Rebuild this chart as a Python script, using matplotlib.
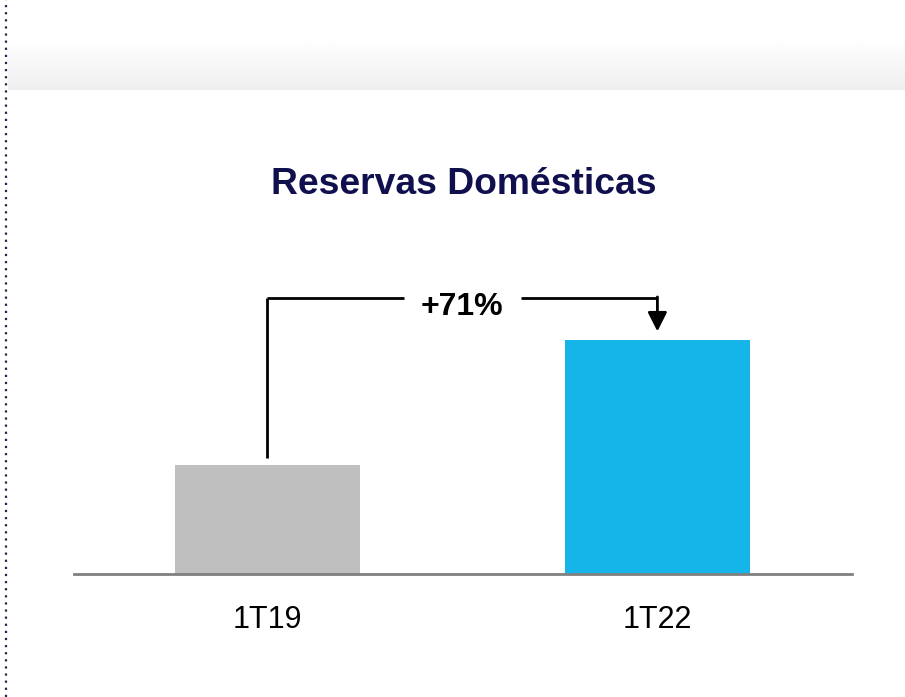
import numpy as np
import matplotlib
matplotlib.use("Agg")
from matplotlib import pyplot as plt
from matplotlib.lines import Line2D

plt.rcParams['font.family'] = ['Liberation Sans', 'DejaVu Sans']

# Data
categories = ['1T19', '1T22']
values = [100, 171]
bar_colors = ['#bfbfbf', '#15b4e9']
change_label = '+71%'
title = 'Reservas Domésticas'

fig = plt.figure(figsize=(9.05, 6.97), dpi=100)

# Grey gradient band at the top of the slide
band = fig.add_axes([8 / 905, 1 - 90 / 697, 1 - 8 / 905, 48 / 697])
grad = np.linspace(0.995, 0.935, 50).reshape(-1, 1)
band.imshow(np.repeat(grad, 10, axis=1), cmap='gray', vmin=0, vmax=1,
            aspect='auto', interpolation='bilinear')
band.axis('off')

# Dotted left border
fig.add_artist(Line2D([6 / 905, 6 / 905], [0, 1], transform=fig.transFigure,
                      color='#1b2a4a', linestyle=(0, (1, 2.2)), linewidth=1.6))

# Title
fig.text(464 / 905, 1 - 185 / 697, title, ha='center', va='center',
         fontsize=26.8, fontweight='bold', color='#10104f')

# Bar chart
ax = fig.add_axes([74 / 905, 1 - 574 / 697, 778 / 905, 324 / 697])
x = np.arange(len(categories))
ax.bar(x, values, width=0.474, color=bar_colors, zorder=2)
ax.set_xlim(-0.496, 1.499)
ax.set_ylim(38, 222.3)
ax.set_yticks([])
ax.set_xticks(x)
ax.set_xticklabels(categories, fontsize=22)
ax.tick_params(axis='x', length=0, pad=22)
for s in ['top', 'right', 'left']:
    ax.spines[s].set_visible(False)
ax.spines['bottom'].set_color('#808080')
ax.spines['bottom'].set_linewidth(2)

# Growth bracket with arrow
level = max(values) + 24
ax.plot([x[0], x[0]], [values[0] + 4, level], color='black', lw=2, solid_capstyle='butt')
ax.plot([x[0], 0.35], [level, level], color='black', lw=2, solid_capstyle='butt')
ax.plot([0.65, x[1]], [level, level], color='black', lw=2, solid_capstyle='butt')
ax.annotate('', xy=(x[1], values[1] + 5), xytext=(x[1], level + 0.6),
            arrowprops=dict(arrowstyle='-|>,head_length=1.15,head_width=0.58',
                            color='black', lw=2, shrinkA=0, shrinkB=0))
ax.text(0.5, level - 9.5, change_label, ha='center', va='baseline',
        fontsize=23, fontweight='bold', color='black')

fig.savefig('out.png', dpi=100)
